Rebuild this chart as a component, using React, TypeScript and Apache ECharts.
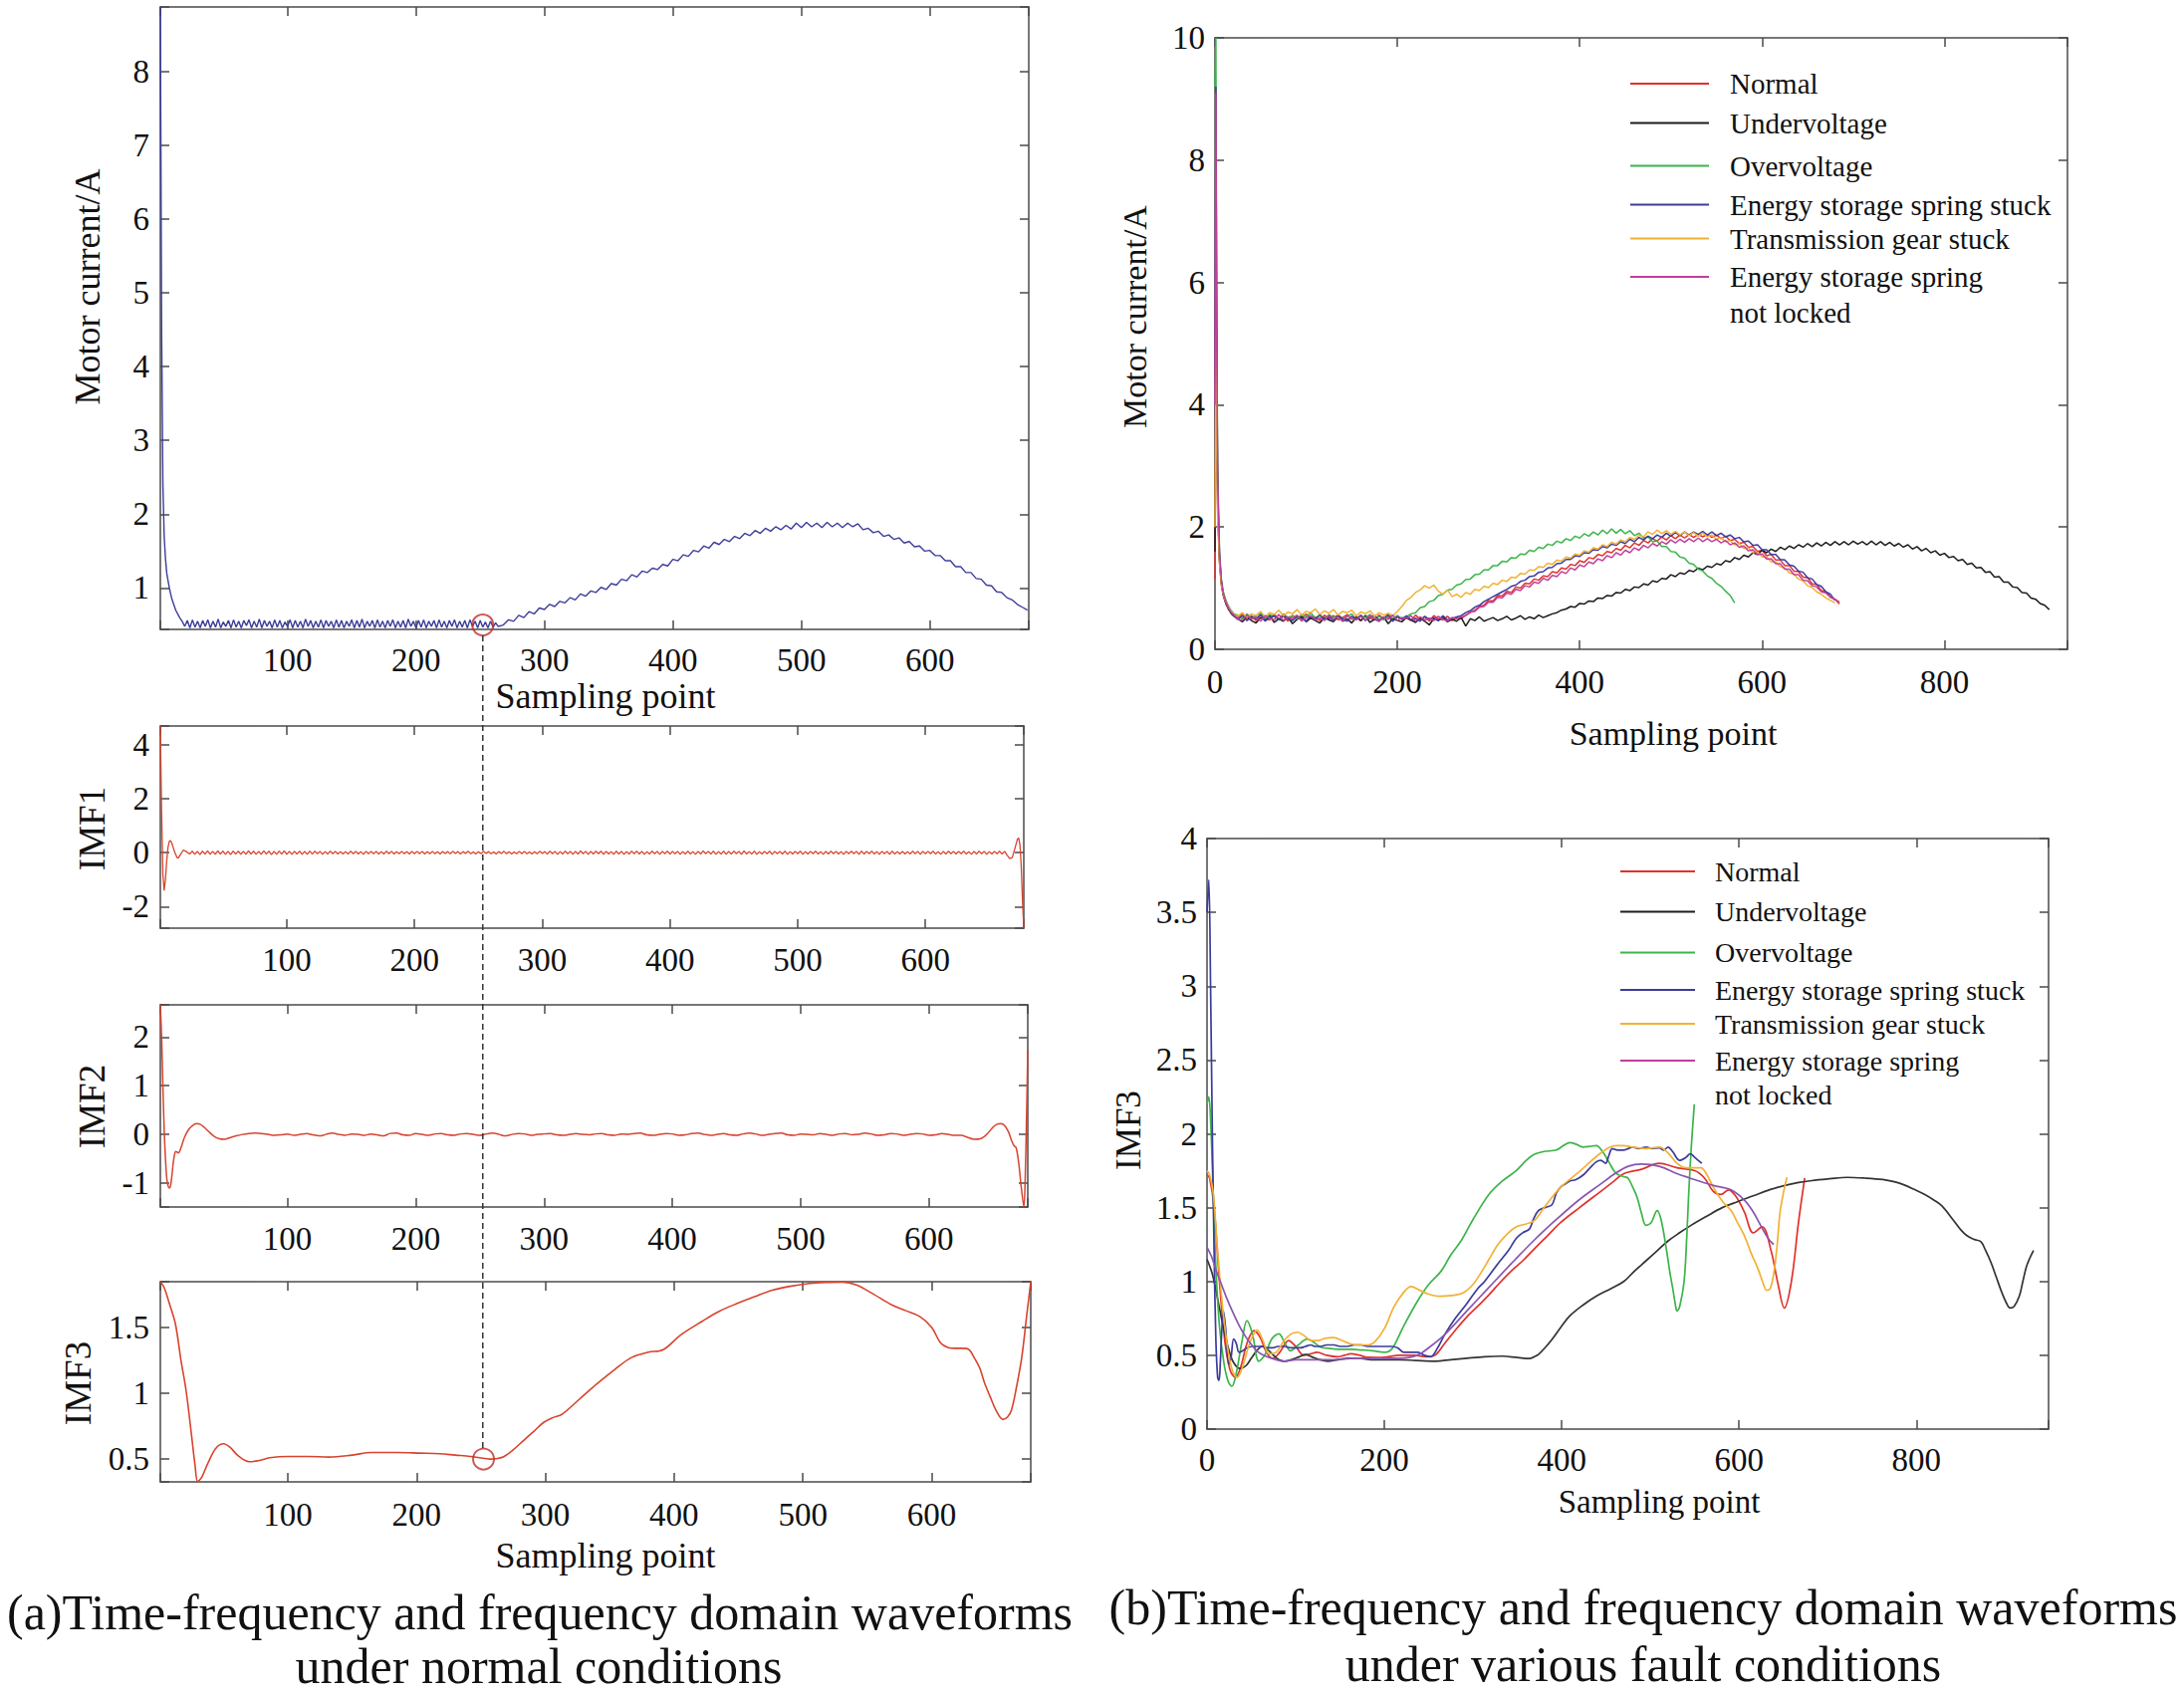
import React, { useEffect, useRef } from 'react';
import * as echarts from 'echarts';

const FONT = '"Liberation Serif", "Times New Roman", Times, serif';
const FRAME = '#4a4a4a';
const TXT = '#111111';

// ---------- colours ----------
const C_BLUE_A = '#3c3c9a';
const C_RED_A = '#d8432e';
const C_NORMAL = '#e0322c';
const C_UNDER = '#1c1c1c';
const C_OVER = '#3cb44b';
const C_SPRING = '#3b3c9c';
const C_GEAR = '#f2b134';
const C_UNLOCK = '#c0409a';
const C_UNLOCK_IMF = '#8a55b0';

const LEGEND_NAMES = ['Normal', 'Undervoltage', 'Overvoltage', 'Energy storage spring stuck', 'Transmission gear stuck', 'Energy storage spring'];
const LEGEND_EXTRA = 'not locked';

// ---------- (a) motor current, normal ----------
const A1_HEAD = [[1, 8.87], [2, 4.5], [3, 2.4], [4, 1.7], [5, 1.4], [6, 1.2], [8, 1.0], [10, 0.85], [13, 0.7], [16, 0.6], [18, 0.55]];
const A1_FLAT_START = 20;
const A1_FLAT_STEP = 2;
const A1_FLAT = [
  0.48, 0.56, 0.46, 0.57, 0.47, 0.55, 0.46, 0.56, 0.48, 0.57,
  0.46, 0.55, 0.47, 0.58, 0.46, 0.54, 0.48, 0.56, 0.46, 0.57,
  0.47, 0.55, 0.46, 0.56, 0.49, 0.57, 0.46, 0.55, 0.47, 0.58,
  0.46, 0.56, 0.48, 0.55, 0.46, 0.57, 0.47, 0.56, 0.46, 0.54,
  0.48, 0.57, 0.46, 0.56, 0.47, 0.55, 0.46, 0.58, 0.48, 0.56,
  0.46, 0.55, 0.47, 0.57, 0.46, 0.56, 0.48, 0.55, 0.46, 0.57,
  0.47, 0.56, 0.46, 0.55, 0.48, 0.57, 0.46, 0.56, 0.47, 0.58,
  0.46, 0.55, 0.48, 0.56, 0.46, 0.57, 0.47, 0.55, 0.46, 0.56,
  0.48, 0.57, 0.46, 0.55, 0.47, 0.56, 0.46, 0.58, 0.48, 0.55,
  0.46, 0.56, 0.47, 0.57, 0.46, 0.55, 0.48, 0.56, 0.46, 0.57,
  0.47, 0.55, 0.46, 0.56, 0.48, 0.57, 0.46, 0.55, 0.47, 0.56,
  0.46, 0.57, 0.48, 0.55, 0.46, 0.56, 0.47, 0.54, 0.46, 0.55,
  0.47, 0.53, 0.48,
];
const A1_RISE_START = 268;
const A1_RISE_STEP = 4;
const A1_RISE = [
  0.5, 0.57, 0.55, 0.63, 0.6, 0.68, 0.65, 0.73, 0.71, 0.78,
  0.75, 0.82, 0.8, 0.87, 0.84, 0.92, 0.89, 0.96, 0.94, 1.01,
  0.98, 1.06, 1.04, 1.12, 1.1, 1.18, 1.15, 1.23, 1.21, 1.27,
  1.25, 1.32, 1.3, 1.39, 1.37, 1.45, 1.43, 1.51, 1.49, 1.57,
  1.54, 1.62, 1.59, 1.66, 1.63, 1.7, 1.67, 1.74, 1.71, 1.78,
  1.74, 1.81, 1.77, 1.83, 1.79, 1.85, 1.8, 1.88, 1.82, 1.89,
  1.83, 1.88, 1.82, 1.89, 1.83, 1.88, 1.82, 1.88, 1.83, 1.87,
  1.79, 1.81, 1.75, 1.77, 1.7, 1.72, 1.66, 1.68, 1.61, 1.63,
  1.56, 1.57, 1.5, 1.51, 1.44, 1.44, 1.37, 1.37, 1.29, 1.29,
  1.21, 1.21, 1.13, 1.12, 1.04, 1.03, 0.95, 0.94, 0.87, 0.84,
  0.78, 0.74, 0.7,
];

// ---------- IMF1 ----------
const IMF1_HEAD = [[1, 4.7], [2, 1.5], [3, -0.8], [4, -1.4], [5, -1.0], [6, -0.3], [7, 0.2], [8, 0.42], [9, 0.45], [10, 0.35], [12, 0.05], [14, -0.18], [15, -0.2], [17, -0.05], [19, 0.1], [21, 0.05]];
const IMF1_START = 24;
const IMF1_STEP = 2;
const IMF1_BODY = [
  -0.05, 0.06, -0.06, 0.05, -0.07, 0.06, -0.05, 0.07, -0.06, 0.05,
  -0.06, 0.07, -0.05, 0.06, -0.06, 0.05, -0.07, 0.06, -0.05, 0.06,
  -0.06, 0.05, -0.06, 0.07, -0.05, 0.06, -0.06, 0.05, -0.06, 0.07,
  -0.05, 0.06, -0.07, 0.05, -0.06, 0.06, -0.05, 0.07, -0.06, 0.05,
  -0.06, 0.05, -0.05, 0.06, -0.06, 0.05, -0.06, 0.06, -0.05, 0.06,
  -0.04, 0.05, -0.06, 0.04, -0.05, 0.06, -0.04, 0.05, -0.05, 0.04,
  -0.05, 0.04, -0.05, 0.06, -0.04, 0.05, -0.05, 0.04, -0.06, 0.05,
  -0.04, 0.05, -0.04, 0.05, -0.05, 0.04, -0.05, 0.06, -0.04, 0.05,
  -0.05, 0.04, -0.04, 0.05, -0.04, 0.04, -0.05, 0.05, -0.04, 0.05,
  -0.04, 0.05, -0.05, 0.04, -0.04, 0.05, -0.04, 0.04, -0.05, 0.04,
  -0.03, 0.04, -0.04, 0.05, -0.03, 0.04, -0.05, 0.04, -0.03, 0.05,
  -0.04, 0.03, -0.05, 0.04, -0.04, 0.05, -0.03, 0.04, -0.04, 0.03,
  -0.05, 0.04, -0.03, 0.05, -0.04, 0.04, -0.05, 0.03, -0.04, 0.05,
  -0.04, 0.05, -0.04, 0.03, -0.05, 0.04, -0.04, 0.05, -0.03, 0.04,
  -0.05, 0.06, -0.04, 0.05, -0.06, 0.04, -0.05, 0.06, -0.04, 0.05,
  -0.06, 0.05, -0.05, 0.07, -0.04, 0.05, -0.06, 0.05, -0.05, 0.06,
  -0.04, 0.06, -0.06, 0.05, -0.05, 0.04, -0.06, 0.06, -0.05, 0.05,
  -0.06, 0.04, -0.05, 0.06, -0.04, 0.06, -0.05, 0.05, -0.06, 0.04,
  -0.05, 0.06, -0.04, 0.05, -0.06, 0.05, -0.04, 0.06, -0.05, 0.05,
  -0.04, 0.05, -0.06, 0.04, -0.05, 0.06, -0.05, 0.04, -0.06, 0.05,
  -0.05, 0.07, -0.04, 0.05, -0.05, 0.06, -0.06, 0.04, -0.05, 0.06,
  -0.06, 0.05, -0.05, 0.06, -0.04, 0.05, -0.06, 0.07, -0.05, 0.04,
  -0.05, 0.06, -0.06, 0.04, -0.05, 0.05, -0.04, 0.06, -0.06, 0.05,
  -0.04, 0.05, -0.05, 0.06, -0.06, 0.04, -0.05, 0.05, -0.04, 0.06,
  -0.06, 0.04, -0.05, 0.05, -0.04, 0.06, -0.05, 0.04, -0.06, 0.05,
  -0.05, 0.06, -0.04, 0.05, -0.05, 0.04, -0.06, 0.05, -0.04, 0.06,
  -0.04, 0.05, -0.06, 0.06, -0.05, 0.05, -0.04, 0.06, -0.05, 0.04,
  -0.06, 0.05, -0.04, 0.05, -0.06, 0.06, -0.05, 0.04, -0.05, 0.05,
  -0.05, 0.04, -0.05, 0.06, -0.04, 0.05, -0.06, 0.05, -0.04, 0.05,
  -0.04, 0.06, -0.05, 0.04, -0.06, 0.05, -0.05, 0.06, -0.04, 0.05,
  -0.05, 0.05, -0.04, 0.06, -0.05, 0.04, -0.06, 0.05, -0.05, 0.06,
  -0.04, 0.05, -0.06, 0.04, -0.05, 0.05, -0.04, 0.06, -0.05, 0.05,
];
const IMF1_TAIL = [[664, -0.1], [666, -0.22], [668, -0.18], [670, 0.15], [672, 0.5], [673, 0.55], [674, 0.3], [675, -0.5], [676, -1.8], [677, -2.8]];

// ---------- IMF2 ----------
const IMF2_HEAD = [[1, 2.66], [2, 2.0], [3, 1.0], [4, 0.1], [5, -0.5], [6, -0.9], [7, -1.05], [8, -1.1], [9, -1.05], [10, -0.85], [11, -0.6], [12, -0.42], [13, -0.35], [14, -0.36], [15, -0.38], [16, -0.35], [18, -0.2], [20, -0.05], [23, 0.1], [26, 0.18], [29, 0.22], [32, 0.21], [35, 0.15], [39, 0.05], [43, -0.04], [47, -0.09], [51, -0.1], [55, -0.07], [60, -0.03], [65, 0.0], [70, 0.02], [75, 0.03], [80, 0.02]];
const IMF2_START = 85;
const IMF2_STEP = 5;
const IMF2_BODY = [
  0.0, -0.02, -0.01, 0.01, -0.02, 0.0, 0.02, -0.01, -0.03, 0.0,
  0.03, 0.0, -0.02, 0.01, 0.0, -0.02, 0.01, -0.01, -0.03, 0.02,
  0.03, -0.01, -0.02, 0.02, 0.0, -0.02, 0.01, 0.02, -0.01, -0.02,
  0.01, 0.02, 0.0, -0.02, 0.01, 0.03, 0.0, -0.03, 0.0, 0.02,
  0.01, -0.02, 0.0, 0.01, 0.02, -0.01, -0.02, 0.0, 0.02, 0.0,
  -0.01, 0.01, 0.02, -0.01, -0.02, 0.01, 0.0, 0.02, 0.03, -0.01,
  -0.02, 0.0, 0.02, 0.01, -0.02, -0.01, 0.02, 0.03, 0.0, -0.02,
  0.0, 0.02, -0.01, -0.02, 0.01, 0.03, 0.01, -0.02, 0.0, 0.02,
  0.03, -0.01, -0.02, 0.01, 0.0, -0.01, 0.02, 0.0, -0.02, 0.01,
  0.02, -0.01, 0.0, 0.03, 0.01, -0.02, -0.01, 0.02, 0.01, -0.02,
  0.0, 0.02, 0.01, -0.02, -0.01, 0.02, 0.0, -0.02,
];
const IMF2_TAIL = [[625, -0.02], [630, -0.06], [635, -0.1], [640, -0.09], [645, 0.0], [650, 0.15], [653, 0.21], [656, 0.22], [659, 0.18], [662, 0.05], [664, -0.1], [666, -0.22], [668, -0.28], [670, -0.6], [672, -1.1], [674, -1.49], [675, -0.9], [676, 0.3], [677, 1.72]];

// ---------- IMF3 (normal) ----------
const IMF3_A = [[1, 1.845], [4, 1.8], [8, 1.68], [12.8, 1.52], [17, 1.25], [21, 1.02], [25, 0.7], [28, 0.45], [30, 0.33], [33, 0.36], [38, 0.47], [44, 0.58], [50, 0.616], [55, 0.59], [62, 0.52], [70, 0.48], [78, 0.49], [86, 0.51], [100, 0.52], [116, 0.52], [132, 0.515], [150, 0.53], [165, 0.55], [185, 0.55], [203, 0.545], [218, 0.54], [230, 0.53], [242, 0.52], [249, 0.51], [257, 0.5], [263, 0.505], [268, 0.52], [275, 0.57], [283, 0.64], [291, 0.71], [299, 0.78], [306, 0.815], [313, 0.84], [326, 0.95], [340, 1.07], [354, 1.18], [367, 1.27], [380, 1.31], [391.6, 1.33], [405, 1.44], [421.9, 1.545], [435, 1.62], [449, 1.68], [462, 1.73], [476.4, 1.78], [490, 1.81], [503.7, 1.83], [517, 1.84], [531, 1.842], [541.6, 1.82], [555, 1.75], [569, 1.67], [580, 1.625], [591, 1.58], [600, 1.5], [607, 1.38], [613, 1.345], [618, 1.34], [624, 1.34], [629, 1.33], [633, 1.27], [637.4, 1.19], [641, 1.08], [645.6, 0.97], [650, 0.87], [655.4, 0.8], [659, 0.82], [662, 0.87], [666, 1.05], [670, 1.27], [674, 1.6], [677, 1.845]];

const MARK_X = 252;
const MARK_Y = 0.5;

// ---------- (b) motor current, faults ----------
const RT_START = 25;
const RT_STEP = 5;
const RT_NORMAL_HEAD = [[0, 1.15], [1, 6.9], [2, 3.6], [3, 2.2], [5, 1.4], [7, 1.05], [9, 0.88], [12, 0.74], [15, 0.66], [18, 0.6], [21, 0.56]];
const RT_NORMAL = [
  0.52, 0.58, 0.5, 0.55, 0.47, 0.56, 0.51, 0.48, 0.57, 0.5,
  0.54, 0.46, 0.55, 0.52, 0.49, 0.58, 0.5, 0.53, 0.47, 0.56,
  0.5, 0.55, 0.48, 0.52, 0.57, 0.49, 0.54, 0.47, 0.55, 0.51,
  0.48, 0.56, 0.5, 0.53, 0.46, 0.55, 0.5, 0.52, 0.47, 0.56,
  0.49, 0.53, 0.46, 0.55, 0.5, 0.48, 0.54, 0.47, 0.52,
  0.5, 0.56, 0.6, 0.64, 0.7, 0.72, 0.8, 0.79, 0.88, 0.87,
  0.95, 0.93, 1.02, 1.0, 1.08, 1.07, 1.15, 1.13, 1.2, 1.19,
  1.27, 1.25, 1.33, 1.31, 1.39, 1.37, 1.45, 1.42, 1.5, 1.48,
  1.55, 1.53, 1.6, 1.58, 1.65, 1.62, 1.7, 1.66, 1.74, 1.7,
  1.78, 1.74, 1.81, 1.77, 1.84, 1.79, 1.86, 1.81, 1.87, 1.82,
  1.88, 1.83, 1.88, 1.84, 1.88, 1.83, 1.87, 1.81, 1.85, 1.78,
  1.8, 1.73, 1.75, 1.67, 1.68, 1.6, 1.62, 1.53, 1.55, 1.46,
  1.46, 1.37, 1.37, 1.28, 1.27, 1.18, 1.17, 1.07, 1.06, 0.96,
  0.94, 0.85, 0.82, 0.74,
];
const RT_UNDER_HEAD = [[0, 1.6], [1, 7.6], [2, 3.8], [3, 2.3], [5, 1.45], [7, 1.08], [9, 0.9], [12, 0.75], [15, 0.65], [18, 0.58], [21, 0.54]];
const RT_UNDER = [
  0.5, 0.45, 0.53, 0.47, 0.43, 0.52, 0.48, 0.55, 0.44, 0.5,
  0.46, 0.53, 0.42, 0.49, 0.54, 0.45, 0.51, 0.47, 0.43, 0.52,
  0.48, 0.45, 0.54, 0.46, 0.5, 0.43, 0.52, 0.47, 0.55, 0.44,
  0.49, 0.46, 0.53, 0.42, 0.5, 0.47, 0.45, 0.52, 0.48, 0.44,
  0.51, 0.46, 0.4, 0.5, 0.47, 0.53, 0.45, 0.49, 0.46, 0.52,
  0.38, 0.5, 0.47, 0.53, 0.46, 0.49, 0.52, 0.47, 0.5, 0.54,
  0.48, 0.51, 0.55, 0.49, 0.53, 0.5, 0.56, 0.52, 0.55, 0.58,
  0.6, 0.64, 0.66, 0.7, 0.69, 0.75, 0.74, 0.79, 0.78, 0.84,
  0.83, 0.88, 0.87, 0.93, 0.92, 0.98, 0.96, 1.02, 1.01, 1.07,
  1.05, 1.12, 1.1, 1.16, 1.15, 1.22, 1.19, 1.25, 1.23, 1.29,
  1.27, 1.33, 1.3, 1.36, 1.34, 1.4, 1.38, 1.45, 1.43, 1.5,
  1.47, 1.54, 1.51, 1.58, 1.55, 1.62, 1.58, 1.64, 1.6, 1.67,
  1.63, 1.69, 1.65, 1.71, 1.67, 1.73, 1.68, 1.74, 1.69, 1.75,
  1.7, 1.76, 1.71, 1.76, 1.71, 1.77, 1.72, 1.76, 1.71, 1.77,
  1.71, 1.76, 1.7, 1.75, 1.69, 1.73, 1.67, 1.71, 1.64, 1.68,
  1.61, 1.65, 1.58, 1.61, 1.54, 1.57, 1.5, 1.52, 1.45, 1.47,
  1.39, 1.41, 1.33, 1.34, 1.26, 1.27, 1.18, 1.19, 1.1, 1.1,
  1.02, 1.01, 0.93, 0.92, 0.84, 0.82, 0.75, 0.72, 0.65,
];
const RT_OVER_HEAD = [[0, 9.2], [1, 10.0], [2, 5.2], [3, 2.9], [5, 1.6], [7, 1.15], [9, 0.95], [12, 0.8], [15, 0.7], [18, 0.63], [21, 0.58]];
const RT_OVER = [
  0.56, 0.5, 0.58, 0.52, 0.55, 0.6, 0.5, 0.57, 0.53, 0.49,
  0.58, 0.52, 0.55, 0.5, 0.57, 0.53, 0.6, 0.51, 0.55, 0.48,
  0.57, 0.52, 0.56, 0.5, 0.54, 0.58, 0.49, 0.55, 0.52, 0.57,
  0.5, 0.54, 0.48, 0.56, 0.51, 0.55, 0.49, 0.53, 0.58,
  0.6, 0.68, 0.7, 0.78, 0.8, 0.88, 0.9, 0.97, 0.98, 1.05,
  1.07, 1.14, 1.15, 1.22, 1.23, 1.3, 1.3, 1.37, 1.37, 1.44,
  1.43, 1.5, 1.49, 1.56, 1.55, 1.62, 1.6, 1.67, 1.65, 1.72,
  1.7, 1.77, 1.74, 1.81, 1.78, 1.85, 1.82, 1.89, 1.85, 1.92,
  1.87, 1.95, 1.89, 1.97, 1.9, 1.96, 1.89, 1.94, 1.86, 1.9,
  1.82, 1.84, 1.76, 1.77, 1.68, 1.68, 1.6, 1.59, 1.51, 1.49,
  1.41, 1.39, 1.31, 1.28, 1.2, 1.16, 1.08, 1.03, 0.95, 0.88,
  0.76,
];
const RT_SPRING_HEAD = [[0, 3.0], [1, 9.2], [2, 4.6], [3, 2.6], [5, 1.5], [7, 1.1], [9, 0.9], [12, 0.76], [15, 0.67], [18, 0.6], [21, 0.55]];
const RT_SPRING = [
  0.49, 0.55, 0.47, 0.53, 0.5, 0.57, 0.46, 0.52, 0.55, 0.48,
  0.56, 0.5, 0.47, 0.54, 0.51, 0.46, 0.55, 0.49, 0.57, 0.48,
  0.53, 0.47, 0.56, 0.5, 0.46, 0.54, 0.49, 0.56, 0.47, 0.52,
  0.55, 0.48, 0.51, 0.57, 0.46, 0.53, 0.49, 0.55, 0.48, 0.51,
  0.46, 0.54, 0.49, 0.52, 0.47, 0.55, 0.48, 0.5, 0.53,
  0.55, 0.6, 0.63, 0.69, 0.72, 0.78, 0.82, 0.86, 0.9, 0.94,
  0.98, 1.03, 1.05, 1.11, 1.13, 1.19, 1.2, 1.26, 1.27, 1.33,
  1.34, 1.4, 1.41, 1.47, 1.47, 1.53, 1.52, 1.58, 1.57, 1.63,
  1.62, 1.68, 1.66, 1.72, 1.7, 1.76, 1.73, 1.8, 1.76, 1.83,
  1.79, 1.85, 1.81, 1.87, 1.83, 1.9, 1.85, 1.91, 1.86, 1.92,
  1.87, 1.92, 1.88, 1.93, 1.87, 1.92, 1.86, 1.9, 1.84, 1.87,
  1.81, 1.83, 1.76, 1.77, 1.7, 1.71, 1.63, 1.63, 1.55, 1.55,
  1.47, 1.46, 1.38, 1.36, 1.28, 1.26, 1.17, 1.15, 1.06, 1.03,
  0.94, 0.9, 0.8,
];
const RT_GEAR_HEAD = [[0, 2.0], [1, 5.6], [2, 3.2], [3, 2.1], [5, 1.4], [7, 1.06], [9, 0.9], [12, 0.77], [15, 0.68], [18, 0.62], [21, 0.57]];
const RT_GEAR = [
  0.54, 0.6, 0.52, 0.58, 0.55, 0.62, 0.53, 0.6, 0.57, 0.64,
  0.55, 0.61, 0.58, 0.65, 0.56, 0.62, 0.6, 0.66, 0.57, 0.63,
  0.59, 0.65, 0.56, 0.62, 0.6, 0.64, 0.55, 0.61, 0.58, 0.63,
  0.54, 0.6, 0.56, 0.59, 0.55,
  0.62, 0.7, 0.8, 0.85, 0.93, 0.97, 1.04, 1.0, 1.05, 0.95, 0.9, 0.97, 0.86, 0.9,
  0.85, 0.93, 0.9, 0.98, 0.96, 1.03, 1.01, 1.08, 1.06, 1.13,
  1.11, 1.18, 1.17, 1.24, 1.23, 1.3, 1.29, 1.35, 1.34, 1.41,
  1.39, 1.46, 1.44, 1.51, 1.49, 1.56, 1.54, 1.61, 1.59, 1.66,
  1.64, 1.71, 1.68, 1.75, 1.72, 1.79, 1.76, 1.83, 1.8, 1.87,
  1.84, 1.92, 1.88, 1.95, 1.89, 1.94, 1.88, 1.93, 1.87, 1.92,
  1.86, 1.91, 1.85, 1.9, 1.84, 1.87, 1.8, 1.83, 1.76, 1.78,
  1.71, 1.73, 1.65, 1.66, 1.58, 1.59, 1.51, 1.51, 1.43, 1.43,
  1.35, 1.33, 1.25, 1.23, 1.15, 1.12, 1.04, 1.01, 0.94, 0.9,
  0.84, 0.8, 0.76,
];
const RT_UNLOCK_HEAD = [[0, 4.0], [1, 9.1], [2, 4.8], [3, 2.7], [5, 1.55], [7, 1.12], [9, 0.92], [12, 0.77], [15, 0.67], [18, 0.6], [21, 0.56]];
const RT_UNLOCK = [
  0.5, 0.47, 0.56, 0.49, 0.53, 0.46, 0.55, 0.51, 0.48, 0.57,
  0.47, 0.53, 0.5, 0.56, 0.46, 0.52, 0.55, 0.48, 0.51, 0.47,
  0.56, 0.49, 0.53, 0.46, 0.55, 0.5, 0.48, 0.54, 0.47, 0.56,
  0.5, 0.46, 0.53, 0.49, 0.56, 0.47, 0.52, 0.5, 0.55, 0.46,
  0.53, 0.48, 0.51, 0.47, 0.54, 0.49, 0.46, 0.52, 0.5,
  0.53, 0.55, 0.61, 0.62, 0.69, 0.7, 0.77, 0.77, 0.85, 0.84,
  0.92, 0.9, 0.98, 0.96, 1.04, 1.02, 1.1, 1.08, 1.16, 1.13,
  1.21, 1.19, 1.27, 1.24, 1.33, 1.3, 1.38, 1.35, 1.43, 1.4,
  1.48, 1.45, 1.53, 1.5, 1.58, 1.54, 1.62, 1.58, 1.66, 1.62,
  1.7, 1.66, 1.73, 1.69, 1.76, 1.72, 1.79, 1.74, 1.8, 1.75,
  1.81, 1.76, 1.82, 1.76, 1.81, 1.76, 1.8, 1.74, 1.78, 1.71,
  1.74, 1.67, 1.69, 1.61, 1.63, 1.55, 1.56, 1.48, 1.48, 1.4,
  1.4, 1.31, 1.31, 1.22, 1.22, 1.13, 1.12, 1.04, 1.02, 0.94,
  0.92, 0.85, 0.82, 0.77,
];

// ---------- (b) IMF3, faults ----------
const RB_NORMAL = [[0, 1.72], [3, 1.7], [8, 1.5], [14, 1.0], [20, 0.6], [26, 0.4], [32, 0.35], [38, 0.42], [45, 0.58], [53, 0.667], [60, 0.62], [67, 0.52], [74, 0.48], [82, 0.52], [92, 0.6], [100, 0.56], [109, 0.5], [117, 0.51], [124, 0.52], [135, 0.5], [147, 0.49], [155, 0.5], [162, 0.51], [172, 0.5], [181, 0.486], [192, 0.485], [204, 0.49], [217, 0.5], [234, 0.5], [247, 0.49], [257, 0.5], [268, 0.58], [280, 0.67], [293, 0.76], [305, 0.83], [318, 0.91], [330, 0.99], [343, 1.07], [356, 1.14], [369, 1.22], [384, 1.31], [399, 1.4], [420, 1.5], [444, 1.61], [457, 1.67], [470, 1.73], [490, 1.76], [510, 1.8], [530, 1.77], [550, 1.75], [561, 1.7], [571, 1.61], [580, 1.59], [588, 1.62], [596, 1.58], [606, 1.47], [616, 1.33], [626, 1.37], [636, 1.21], [644, 0.98], [651, 0.82], [659, 1.0], [667, 1.4], [674, 1.7]];
const RB_UNDER = [[0, 1.15], [6, 1.05], [12, 0.88], [18, 0.7], [24, 0.55], [30, 0.45], [37.7, 0.41], [44, 0.43], [50, 0.48], [56, 0.53], [62, 0.56], [68, 0.54], [75, 0.5], [81, 0.47], [87, 0.46], [95, 0.47], [104, 0.49], [111, 0.505], [118, 0.49], [127, 0.47], [136, 0.46], [148, 0.47], [160, 0.48], [172, 0.48], [185, 0.47], [200, 0.47], [217, 0.47], [235, 0.465], [257.6, 0.46], [275, 0.47], [293, 0.48], [313, 0.49], [333, 0.494], [350, 0.485], [363.6, 0.478], [369, 0.49], [373.7, 0.505], [381, 0.55], [389, 0.607], [399, 0.69], [409, 0.766], [424, 0.84], [439, 0.9], [455, 0.95], [470, 1.0], [482, 1.07], [495, 1.14], [508, 1.21], [520, 1.275], [533, 1.33], [545, 1.377], [563, 1.44], [581, 1.5], [598, 1.54], [616, 1.58], [634, 1.62], [651.5, 1.65], [667, 1.67], [682, 1.683], [702, 1.695], [722, 1.705], [742, 1.7], [762, 1.69], [775, 1.675], [785.6, 1.655], [797, 1.625], [809, 1.59], [820, 1.55], [829, 1.51], [841, 1.42], [850, 1.35], [857, 1.31], [865, 1.285], [872.5, 1.27], [878, 1.21], [884, 1.13], [890, 1.03], [896, 0.93], [901, 0.86], [905.6, 0.82], [910, 0.83], [916, 0.9], [920, 1.0], [924, 1.1], [928, 1.16], [932, 1.21]];
const RB_OVER = [[0, 2.2], [2, 2.25], [4, 2.1], [7, 1.6], [10, 1.1], [14, 0.7], [19, 0.45], [24, 0.32], [28, 0.29], [33, 0.38], [39, 0.58], [45, 0.735], [51, 0.65], [58.5, 0.46], [65, 0.5], [73, 0.61], [81, 0.645], [88, 0.58], [94, 0.53], [103, 0.57], [113, 0.61], [120, 0.59], [128, 0.555], [140, 0.545], [151, 0.54], [163, 0.54], [174, 0.536], [187, 0.53], [200, 0.52], [206, 0.53], [211, 0.565], [222, 0.7], [237.7, 0.87], [250, 0.98], [264, 1.07], [275, 1.18], [287, 1.28], [300, 1.42], [318, 1.59], [333, 1.68], [348.5, 1.75], [360, 1.82], [368.7, 1.86], [380, 1.88], [394, 1.89], [402, 1.92], [409, 1.94], [416, 1.93], [424, 1.91], [432, 1.915], [439, 1.92], [446, 1.88], [454, 1.8], [460, 1.74], [464.6, 1.72], [470, 1.71], [474.7, 1.7], [480, 1.64], [485, 1.57], [490, 1.46], [495, 1.38], [501, 1.4], [507.6, 1.48], [512, 1.42], [517.7, 1.23], [522, 1.06], [525, 0.96], [528, 0.85], [530, 0.8], [533, 0.83], [538, 1.0], [541, 1.3], [543, 1.57], [546, 1.9], [549.5, 2.2]];
const RB_SPRING = [[0, 3.5], [2, 3.72], [4, 3.0], [6, 2.0], [8, 1.2], [10, 0.6], [12, 0.35], [13.5, 0.33], [15, 0.45], [16.5, 0.65], [18.5, 0.8], [21, 0.68], [24.5, 0.44], [27, 0.48], [30, 0.61], [33, 0.58], [36, 0.52], [40, 0.53], [45, 0.55], [52, 0.56], [62, 0.56], [68, 0.55], [74, 0.55], [80, 0.56], [87, 0.56], [95, 0.55], [105, 0.55], [111, 0.56], [117, 0.57], [122, 0.56], [128, 0.56], [135, 0.57], [143, 0.57], [150, 0.56], [158, 0.56], [166, 0.57], [174, 0.57], [181, 0.56], [189, 0.56], [198, 0.56], [208, 0.56], [215, 0.55], [222, 0.52], [230, 0.52], [238, 0.52], [245, 0.5], [252, 0.49], [260, 0.55], [268, 0.64], [280, 0.75], [293, 0.85], [305, 0.95], [313, 1.0], [328, 1.12], [340, 1.21], [348.5, 1.29], [356, 1.33], [363.6, 1.355], [368, 1.42], [373.7, 1.48], [381, 1.5], [389, 1.52], [394, 1.6], [399, 1.64], [404, 1.66], [409, 1.68], [416, 1.69], [424, 1.72], [432, 1.77], [439, 1.81], [444, 1.82], [449.5, 1.8], [453, 1.85], [457, 1.9], [463, 1.89], [469.7, 1.89], [475, 1.9], [480, 1.91], [487, 1.9], [495, 1.91], [502, 1.9], [510, 1.905], [515, 1.89], [520, 1.91], [525, 1.88], [533, 1.82], [540, 1.84], [545, 1.865], [550, 1.84], [558, 1.8]];
const RB_GEAR = [[0, 1.75], [3, 1.72], [7, 1.6], [12, 1.2], [18, 0.8], [24, 0.52], [29, 0.39], [34, 0.35], [40, 0.42], [48, 0.58], [56.6, 0.67], [63, 0.6], [70, 0.51], [78, 0.52], [87, 0.6], [95, 0.645], [102, 0.656], [110, 0.63], [117, 0.6], [125, 0.6], [133, 0.615], [143, 0.62], [152, 0.6], [162, 0.577], [172, 0.57], [181, 0.57], [189, 0.59], [200, 0.68], [211, 0.83], [221, 0.92], [230, 0.966], [240, 0.94], [249, 0.916], [262, 0.9], [275, 0.905], [288, 0.92], [300, 0.98], [308, 1.05], [318, 1.15], [328, 1.25], [340, 1.33], [348.5, 1.37], [360, 1.39], [368.7, 1.41], [379, 1.49], [389, 1.57], [399, 1.64], [409, 1.69], [421, 1.75], [434, 1.82], [444, 1.87], [454.5, 1.91], [462, 1.92], [469.7, 1.92], [480, 1.91], [495, 1.9], [510, 1.91], [520, 1.87], [530, 1.8], [540, 1.77], [550.5, 1.77], [557, 1.77], [563, 1.73], [570, 1.65], [575.8, 1.59], [583, 1.53], [591, 1.48], [598, 1.4], [606, 1.31], [613, 1.2], [621, 1.09], [627, 0.99], [631, 0.94], [635, 0.95], [639, 1.05], [643, 1.25], [646, 1.46], [650, 1.6], [654, 1.705]];
const RB_UNLOCK = [[0, 1.23], [5, 1.17], [10, 1.08], [15, 1.0], [22, 0.89], [30, 0.78], [40, 0.66], [49, 0.58], [58, 0.52], [68, 0.49], [78, 0.47], [87, 0.46], [100, 0.47], [116, 0.47], [140, 0.47], [167, 0.48], [192, 0.48], [217, 0.48], [237, 0.5], [252, 0.56], [268, 0.64], [293, 0.8], [318, 0.96], [343, 1.12], [369, 1.28], [394, 1.42], [419, 1.55], [444, 1.66], [460, 1.73], [475, 1.78], [490, 1.795], [510, 1.78], [530, 1.73], [550, 1.69], [571, 1.65], [591, 1.62], [606, 1.55], [616, 1.47], [626, 1.36], [633, 1.29], [639, 1.25]];

// ---------- helpers ----------
function seq(head: number[][], start: number, step: number, body: number[], tail: number[][] = []) {
  return [...head, ...body.map((v, i) => [start + i * step, v]), ...tail];
}

const fmtStep = (step: number) => (v: number) => {
  const k = v / step;
  return Math.abs(k - Math.round(k)) < 1e-6 ? String(+v.toFixed(4)) : '';
};

const GRIDS = [
  { left: 161, top: 7, width: 872, height: 625 },
  { left: 161, top: 729, width: 867, height: 203 },
  { left: 161, top: 1009, width: 871, height: 203 },
  { left: 161, top: 1287, width: 874, height: 201 },
  { left: 1220, top: 38, width: 856, height: 614 },
  { left: 1212, top: 842, width: 845, height: 593 },
];

type AxisSpec = { min: number; max: number; interval?: number; split?: number; step: number; margin: number };
const X_SPECS: AxisSpec[] = [
  { min: 1, max: 677, split: 7, step: 100, margin: 14 },
  { min: 1, max: 677, split: 7, step: 100, margin: 15 },
  { min: 1, max: 677, split: 7, step: 100, margin: 15 },
  { min: 1, max: 677, split: 7, step: 100, margin: 16 },
  { min: 0, max: 935, interval: 200, step: 200, margin: 16 },
  { min: 0, max: 949, interval: 200, step: 200, margin: 14 },
];
const Y_SPECS: AxisSpec[] = [
  { min: 0.44, max: 8.87, split: 8, step: 1, margin: 11 },
  { min: -2.8, max: 4.7, split: 4, step: 2, margin: 11 },
  { min: -1.49, max: 2.66, split: 4, step: 1, margin: 11 },
  { min: 0.327, max: 1.845, split: 3, step: 0.5, margin: 11 },
  { min: 0, max: 10, interval: 2, step: 2, margin: 10 },
  { min: 0, max: 4, interval: 0.5, step: 0.5, margin: 10 },
];

function axis(g: number, spec: AxisSpec, position: string, labels: boolean) {
  const a: any = {
    type: 'value',
    gridIndex: g,
    position,
    min: spec.min,
    max: spec.max,
    axisLine: { show: true, onZero: false, lineStyle: { color: FRAME, width: 1.5 } },
    axisTick: { show: true, inside: true, length: 9, lineStyle: { color: FRAME, width: 1.5 } },
    axisLabel: {
      show: labels,
      margin: spec.margin,
      fontSize: 33,
      fontFamily: FONT,
      color: TXT,
      formatter: fmtStep(spec.step),
    },
    splitLine: { show: false },
  };
  if (spec.interval != null) a.interval = spec.interval;
  else a.splitNumber = spec.split;
  return a;
}

function lineSeries(name: string, data: number[][], color: string, g: number, width = 1.5, smooth: number | boolean = false) {
  return {
    type: 'line',
    name,
    data,
    xAxisIndex: 2 * g,
    yAxisIndex: 2 * g,
    showSymbol: false,
    symbol: 'none',
    smooth,
    lineStyle: { color, width },
    itemStyle: { color },
    silent: true,
  };
}

function txt(id: string, text: string, x: number, y: number, size: number, rotate = false, align = 'center', lineHeight?: number) {
  const style: any = { text, fontSize: size, fontFamily: FONT, fill: TXT, align, verticalAlign: 'middle' };
  if (lineHeight) style.lineHeight = lineHeight;
  return {
    id,
    type: 'text',
    x,
    y,
    rotation: rotate ? Math.PI / 2 : 0,
    style,
    z: 30,
  };
}

function legendGraphics(prefix: string, x1: number, x2: number, tx: number, ys: number[], extraY: number, colors: string[], size: number) {
  const out: any[] = [];
  ys.forEach((y, i) => {
    out.push({ id: `${prefix}l${i}`, type: 'line', shape: { x1, y1: y, x2, y2: y }, style: { stroke: colors[i], lineWidth: 2 }, z: 30 });
    out.push(txt(`${prefix}t${i}`, LEGEND_NAMES[i], tx, y, size, false, 'left'));
  });
  out.push(txt(`${prefix}tx`, LEGEND_EXTRA, tx, extraY, size, false, 'left'));
  return out;
}

export default function App() {
  const ref = useRef<HTMLDivElement>(null);
  useEffect(() => {
    if (!ref.current) return;
    const chart = echarts.init(ref.current, undefined, { renderer: 'svg' });
    const xAxis: any[] = [];
    const yAxis: any[] = [];
    for (let g = 0; g < 6; g++) {
      xAxis.push(axis(g, X_SPECS[g], 'bottom', true));
      xAxis.push(axis(g, X_SPECS[g], 'top', false));
      yAxis.push(axis(g, Y_SPECS[g], 'left', true));
      yAxis.push(axis(g, Y_SPECS[g], 'right', false));
    }
    const rtColors = [C_NORMAL, C_UNDER, C_OVER, C_SPRING, C_GEAR, C_UNLOCK];
    const a1Data = [
      ...A1_HEAD,
      ...A1_FLAT.map((v, i) => [A1_FLAT_START + i * A1_FLAT_STEP, v]),
      ...A1_RISE.map((v, i) => [A1_RISE_START + i * A1_RISE_STEP, v]),
    ];
    const series: any[] = [
      lineSeries('Motor current', a1Data, C_BLUE_A, 0, 1.4),
      lineSeries('IMF1', seq(IMF1_HEAD, IMF1_START, IMF1_STEP, IMF1_BODY, IMF1_TAIL), C_RED_A, 1, 1.3),
      lineSeries('IMF2', seq(IMF2_HEAD, IMF2_START, IMF2_STEP, IMF2_BODY, IMF2_TAIL), C_RED_A, 2, 1.5, 0.3),
      lineSeries('IMF3', IMF3_A, C_RED_A, 3, 1.6, 0.35),
      lineSeries('Normal', seq(RT_NORMAL_HEAD, RT_START, RT_STEP, RT_NORMAL), C_NORMAL, 4),
      lineSeries('Undervoltage', seq(RT_UNDER_HEAD, RT_START, RT_STEP, RT_UNDER), C_UNDER, 4),
      lineSeries('Overvoltage', seq(RT_OVER_HEAD, RT_START, RT_STEP, RT_OVER), C_OVER, 4),
      lineSeries('Energy storage spring stuck', seq(RT_SPRING_HEAD, RT_START, RT_STEP, RT_SPRING), C_SPRING, 4),
      lineSeries('Transmission gear stuck', seq(RT_GEAR_HEAD, RT_START, RT_STEP, RT_GEAR), C_GEAR, 4),
      lineSeries('Energy storage spring not locked', seq(RT_UNLOCK_HEAD, RT_START, RT_STEP, RT_UNLOCK), C_UNLOCK, 4),
      lineSeries('Normal IMF3', RB_NORMAL, C_NORMAL, 5, 1.7, 0.35),
      lineSeries('Undervoltage IMF3', RB_UNDER, '#333333', 5, 1.7, 0.35),
      lineSeries('Overvoltage IMF3', RB_OVER, C_OVER, 5, 1.7, 0.35),
      lineSeries('Energy storage spring stuck IMF3', RB_SPRING, C_SPRING, 5, 1.7, 0.35),
      lineSeries('Transmission gear stuck IMF3', RB_GEAR, C_GEAR, 5, 1.7, 0.35),
      lineSeries('Energy storage spring not locked IMF3', RB_UNLOCK, C_UNLOCK_IMF, 5, 1.7, 0.35),
    ];
    [0, 3].forEach((g) => {
      series.push({
        type: 'scatter',
        name: `mark${g}`,
        data: [[MARK_X, MARK_Y]],
        xAxisIndex: 2 * g,
        yAxisIndex: 2 * g,
        symbol: 'circle',
        symbolSize: 21,
        itemStyle: { color: 'rgba(0,0,0,0)', borderColor: '#c0302a', borderWidth: 2 },
        z: 5,
        silent: true,
      });
    });

    const graphics: any[] = [
      txt('yl0', 'Motor current/A', 88, 288, 36, true),
      txt('yl1', 'IMF1', 92, 832, 37, true),
      txt('yl2', 'IMF2', 92, 1111, 37, true),
      txt('yl3', 'IMF3', 78, 1389, 37, true),
      txt('xl0', 'Sampling point', 608, 699, 36),
      txt('xl3', 'Sampling point', 608, 1562, 36),
      txt('yl4', 'Motor current/A', 1139, 318, 34, true),
      txt('xl4', 'Sampling point', 1680, 736, 34),
      txt('yl5', 'IMF3', 1133, 1135, 35, true),
      txt('xl5', 'Sampling point', 1666, 1508, 33),
      txt('capa1', '(a)Time-frequency and frequency domain waveforms', 542, 1619, 50, false, 'center', 44),
      txt('capa2', 'under normal conditions', 541, 1673, 50, false, 'center', 44),
      txt('capb1', '(b)Time-frequency and frequency domain waveforms', 1650, 1614, 50, false, 'center', 44),
      txt('capb2', 'under various fault conditions', 1650, 1671, 50, false, 'center', 44),
      ...legendGraphics('lg1', 1637, 1716, 1737, [84, 123.5, 166.5, 205.5, 239.5, 278], 314, rtColors, 29),
      ...legendGraphics('lg2', 1627, 1702, 1722, [875, 915.5, 956.5, 994, 1028, 1065], 1099, rtColors, 28),
    ];

    chart.setOption({
      animation: false,
      backgroundColor: '#ffffff',
      textStyle: { fontFamily: FONT },
      grid: GRIDS.map((g) => ({ ...g, containLabel: false, show: false })),
      xAxis,
      yAxis,
      series,
      graphic: { elements: graphics },
    });

    const p0 = chart.convertToPixel({ gridIndex: 0 } as any, [MARK_X, MARK_Y]) as number[];
    const p3 = chart.convertToPixel({ gridIndex: 3 } as any, [MARK_X, MARK_Y]) as number[];
    if (p0 && p3) {
      chart.setOption({
        graphic: {
          elements: [
            {
              id: 'dash',
              type: 'line',
              shape: { x1: p0[0], y1: p0[1] + 10.5, x2: p0[0], y2: p3[1] - 10.5 },
              style: { stroke: '#333333', lineWidth: 1.5, lineDash: [6, 4] },
              z: 20,
            },
          ],
        },
      });
    }
    return () => chart.dispose();
  }, []);
  return (
    <div
      ref={ref}
      style={{ position: 'absolute', left: 0, top: 0, width: '2193px', height: '1700px', background: '#ffffff' }}
    />
  );
}
